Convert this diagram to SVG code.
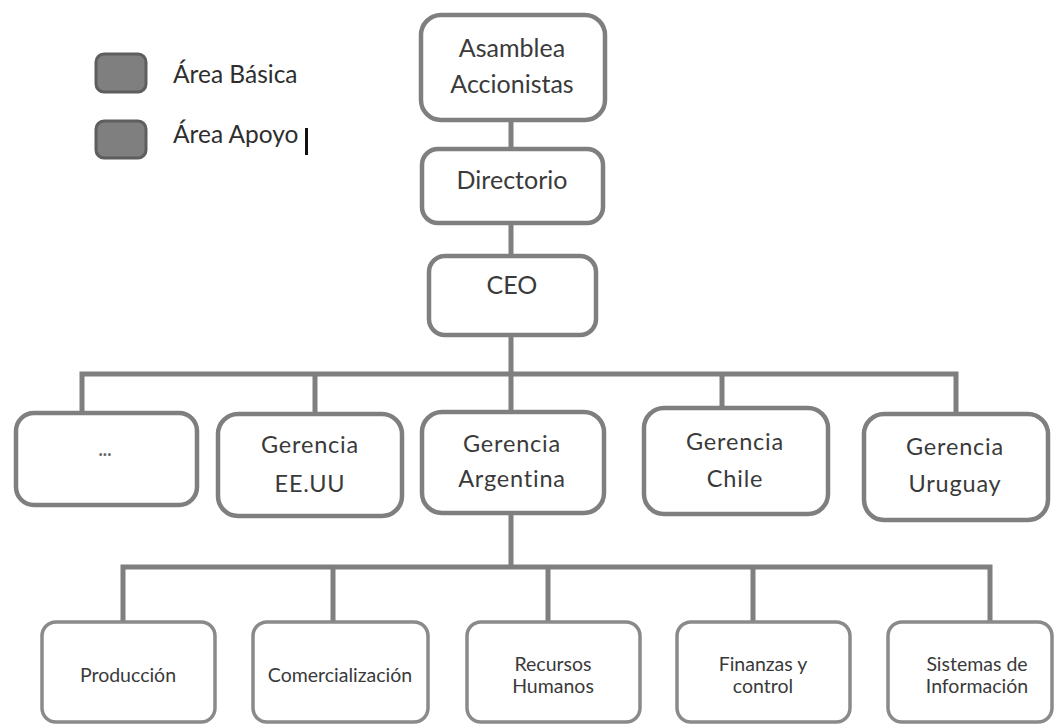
<svg xmlns="http://www.w3.org/2000/svg" width="1056" height="724" viewBox="0 0 1056 724">
<style>
.box{fill:#ffffff;stroke:#7f7f7f;stroke-width:4.5}
.sbox{fill:#ffffff;stroke:#8a8a8a;stroke-width:3.5}
.leg{fill:#7f7f7f;stroke:#5e5e5e;stroke-width:3}
.con{fill:none;stroke:#7f7f7f;stroke-width:5;stroke-linejoin:miter}
text{font-family:Lato,"Open Sans","Liberation Sans",sans-serif;fill:#3a3a3a;text-anchor:middle}
.t1{font-size:25px}
.t2{font-size:23.5px;letter-spacing:0.8px}
.t3{font-size:19.5px}
.tl{font-size:24.5px;text-anchor:start;fill:#2e2e2e}
</style>
<rect width="1056" height="724" fill="#ffffff"/>
<g id="legend">
<rect class="leg" x="96" y="54" width="50" height="38" rx="8"/>
<rect class="leg" x="96" y="121" width="50" height="37" rx="8"/>
<text class="tl" x="173" y="83">Área Básica</text>
<text class="tl" x="173" y="143">Área Apoyo</text>
<rect x="305" y="128" width="3" height="27" fill="#111111"/>
</g>
<g id="connectors">
<line class="con" x1="511" y1="120" x2="511" y2="148"/>
<line class="con" x1="511" y1="223" x2="511" y2="255"/>
<line class="con" x1="511" y1="335" x2="511" y2="374"/>
<path class="con" d="M82 413 V374 H956 V413"/>
<line class="con" x1="315" y1="374" x2="315" y2="413"/>
<line class="con" x1="511" y1="374" x2="511" y2="412"/>
<line class="con" x1="722" y1="374" x2="722" y2="408"/>
<line class="con" x1="511" y1="513" x2="511" y2="567"/>
<path class="con" d="M123 622 V567 H990 V622"/>
<line class="con" x1="333" y1="567" x2="333" y2="622"/>
<line class="con" x1="548" y1="567" x2="548" y2="622"/>
<line class="con" x1="753" y1="567" x2="753" y2="622"/>
</g>
<g id="asamblea">
<rect class="box" x="421" y="15" width="184" height="105" rx="20"/>
<text class="t1" x="512" y="57">Asamblea</text>
<text class="t1" x="512" y="93">Accionistas</text>
</g>
<g id="directorio">
<rect class="box" x="422" y="149" width="181" height="74" rx="16"/>
<text class="t1" x="512" y="189">Directorio</text>
</g>
<g id="ceo">
<rect class="box" x="429" y="256" width="167" height="79" rx="16"/>
<text class="t1" x="512" y="294">CEO</text>
</g>
<g id="otros">
<rect class="box" x="16" y="413" width="181" height="92" rx="18"/>
<text x="105" y="456" style="font-size:18px;font-weight:bold;fill:#666666">...</text>
</g>
<g id="gerencia-eeuu">
<rect class="box" x="218" y="414" width="184" height="102" rx="20"/>
<text class="t2" x="310" y="453">Gerencia</text>
<text class="t2" x="310" y="492">EE.UU</text>
</g>
<g id="gerencia-argentina">
<rect class="box" x="422" y="412" width="182" height="101" rx="20"/>
<text class="t2" x="512" y="452">Gerencia</text>
<text class="t2" x="512" y="487">Argentina</text>
</g>
<g id="gerencia-chile">
<rect class="box" x="644" y="408" width="184" height="106" rx="20"/>
<text class="t2" x="735" y="450">Gerencia</text>
<text class="t2" x="735" y="487">Chile</text>
</g>
<g id="gerencia-uruguay">
<rect class="box" x="864" y="414" width="184" height="106" rx="20"/>
<text class="t2" x="955" y="455">Gerencia</text>
<text class="t2" x="955" y="492">Uruguay</text>
</g>
<g id="produccion">
<rect class="sbox" x="42" y="622" width="173" height="100" rx="14"/>
<text class="t3" x="128" y="682">Producción</text>
</g>
<g id="comercializacion">
<rect class="sbox" x="253" y="622" width="175" height="100" rx="14"/>
<text class="t3" x="340" y="682">Comercialización</text>
</g>
<g id="recursos-humanos">
<rect class="sbox" x="467" y="622" width="173" height="100" rx="14"/>
<text class="t3" x="553" y="671">Recursos</text>
<text class="t3" x="553" y="693">Humanos</text>
</g>
<g id="finanzas">
<rect class="sbox" x="677" y="622" width="173" height="100" rx="14"/>
<text class="t3" x="763" y="671">Finanzas y</text>
<text class="t3" x="763" y="693">control</text>
</g>
<g id="sistemas">
<rect class="sbox" x="888" y="622" width="164" height="100" rx="14"/>
<text class="t3" x="977" y="671">Sistemas de</text>
<text class="t3" x="977" y="693">Información</text>
</g>
</svg>
